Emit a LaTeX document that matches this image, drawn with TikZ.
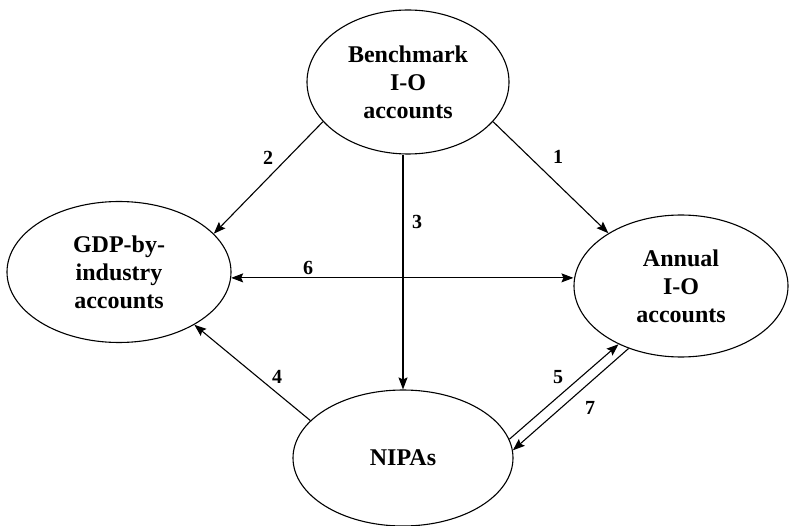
\documentclass[tikz,border=0pt]{standalone}
\usepackage{fontspec}
\setmainfont{Liberation Serif}
\usetikzlibrary{shapes.geometric,arrows.meta,calc}

\tikzset{
  acct/.style={ellipse, draw, line width=1.1pt, inner sep=0pt,
    align=center, font=\fontsize{24}{28}\selectfont\bfseries},
  flow/.style={line width=1.1pt, -{Stealth[length=12pt,width=9pt,inset=2pt]}},
  twoway/.style={line width=1.1pt, {Stealth[length=12pt,width=9pt,inset=2pt]}-{Stealth[length=12pt,width=9pt,inset=2pt]}},
  num/.style={font=\fontsize{20}{22}\selectfont\bfseries, inner sep=0pt}
}

\begin{document}
\begin{tikzpicture}[x=1pt,y=-1pt]
  \useasboundingbox (0,0) rectangle (789,526);

  % accounts
  \node[acct, minimum width=202pt, minimum height=144pt] (B) at (408,82)
    {Benchmark\\I-O\\accounts};
  \node[acct, minimum width=224pt, minimum height=141pt] (G) at (119,272)
    {GDP-by-\\industry\\accounts};
  \node[acct, minimum width=214pt, minimum height=142pt] (A) at (681,286)
    {Annual\\I-O\\accounts};
  \node[acct, minimum width=220pt, minimum height=136pt] (N) at (403,458)
    {NIPAs};

  % flows between the accounts
  \draw[flow] (B.335) -- (A.144);
  \draw[flow] (B.205) -- (G.22.6);
  \draw[flow] (N.north |- B.south) -- (N.north);
  \draw[flow] (N.158.7) -- (G.325);
  \draw[flow] (N.10.9) -- (A.223.5);
  \draw[flow] (A.230.6) -- (N.4.2);
  \draw[twoway] (G.-3.6) -- (G.-3.6 -| A.west);

  % flow numbers
  \node[num] (l1) at (558,157) {1};
  \node[num] (l2) at (268,158) {2};
  \node[num] (l3) at (417,222) {3};
  \node[num] (l4) at (277,377) {4};
  \node[num] (l5) at (558,377) {5};
  \node[num] (l6) at (308,268) {6};
  \node[num] (l7) at (590,408) {7};
\end{tikzpicture}
\end{document}
